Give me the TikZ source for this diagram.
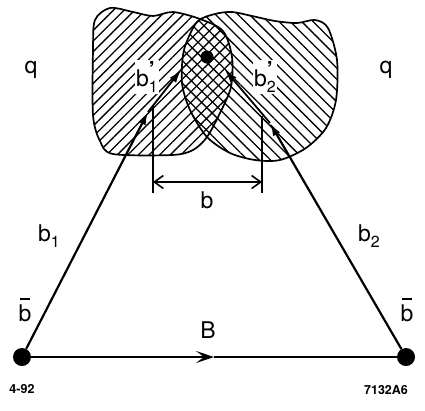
\documentclass[tikz,border=0pt]{standalone}
\usepackage{fontspec}
\setmainfont{TeX Gyre Heros}
\usetikzlibrary{arrows.meta,patterns.meta}

% subscript, primed subscript and barred b for the labels
\newcommand{\idx}[1]{\raisebox{-0.28em}{\fontsize{16}{16}\selectfont #1}}
\newcommand{\pidx}[1]{\rlap{\raisebox{0.38em}{\fontsize{22}{22}\selectfont\bfseries ’}}\idx{#1}}
\newcommand{\barb}{\rlap{\hspace{0.07em}\raisebox{0.93em}{\rule{0.42em}{1.4pt}}}b}

\begin{document}
\begin{tikzpicture}[x=1pt,y=-1pt,
  lbl/.style={font=\fontsize{23}{26}\selectfont,inner sep=0pt},
  tag/.style={font=\fontsize{12.5}{14}\selectfont\bfseries,inner sep=0pt},
  dot/.style={circle,fill,inner sep=0pt,minimum size=18pt},
  vec/.style={line width=2.2pt,-{Latex[length=13pt,width=8pt]}},
  blob/.style={line width=1.7pt,line join=round},
  bar/.style={line width=1.6pt}]
  \useasboundingbox (0,0) rectangle (425,410);

  % the two hatched regions
  \fill[pattern={Lines[angle=45,distance=7.5pt,line width=1.3pt]}] plot[smooth cycle] coordinates {(95,20) (110,8) (133,12) (153,16) (173,12) (200,19) (223,31) (232,57) (231,87) (220,113) (207,137) (193,150) (172,155) (113,154) (100,141) (93,115) (93,50)};
  \fill[pattern={Lines[angle=-45,distance=8pt,line width=1.3pt]}] plot[smooth cycle] coordinates {(197,22) (215,14) (232,12) (252,16) (275,21) (297,23) (315,20) (328,28) (337,60) (336,100) (326,128) (306,148) (280,160) (255,160) (230,153) (207,137) (190,110) (182,83) (184,50)};
  \draw[blob] plot[smooth cycle] coordinates {(95,20) (110,8) (133,12) (153,16) (173,12) (200,19) (223,31) (232,57) (231,87) (220,113) (207,137) (193,150) (172,155) (113,154) (100,141) (93,115) (93,50)};
  \draw[blob] plot[smooth cycle] coordinates {(197,22) (215,14) (232,12) (252,16) (275,21) (297,23) (315,20) (328,28) (337,60) (336,100) (326,128) (306,148) (280,160) (255,160) (230,153) (207,137) (190,110) (182,83) (184,50)};

  \node[dot] (bl) at (22,357) {};
  \node[dot] (br) at (406,357) {};
  \node[dot,minimum size=13pt] (bb) at (207,57) {};

  \coordinate (t1) at (148,112);
  \coordinate (t2) at (270,123);
  \coordinate (p1) at (181,70);
  \coordinate (p2) at (225,70);
  \coordinate (m) at (214,357);

  \draw[vec] (bl) -- (t1);
  \draw[vec] (br) -- (t2);
  \draw[vec,line width=1.8pt] (t1) -- (p1);
  \draw[vec,line width=1.8pt] (t2) -- (p2);

  \draw[line width=2.2pt,-{Stealth[length=18pt,width=12pt,inset=8pt]}] (bl) -- (m);
  \draw[line width=2.2pt] (m) -- (br);

  % width b
  \coordinate (v1t) at (153,106);
  \coordinate (v1b) at (153,193);
  \coordinate (v2t) at (262,116);
  \coordinate (v2b) at (262,193);
  \coordinate (h1) at (153,182);
  \coordinate (h2) at (262,182);
  \draw[bar] (v1t) -- (v1b);
  \draw[bar] (v2t) -- (v2b);
  \draw[bar,{Straight Barb[length=9pt,width=13pt]}-{Straight Barb[length=9pt,width=13pt]}] (h1) -- (h2);

  \node[lbl] (q1) at (31,70) {q};
  \node[lbl] (q2) at (386,70) {q};
  \node[lbl,fill=white,inner sep=1.5pt] (lb1p) at (147,77) {b\pidx{1}};
  \node[lbl,fill=white,inner sep=1.5pt] (lb2p) at (265,77) {b\pidx{2}};
  \node[lbl] (lb) at (207,200) {b};
  \node[lbl] (lb1) at (49,236) {b\idx{1}};
  \node[lbl] (lb2) at (369,236) {b\idx{2}};
  \node[lbl] (lbb1) at (25,310) {\barb};
  \node[lbl] (lbb2) at (407,310) {\barb};
  \node[lbl] (lB) at (208,330) {B};
  \node[tag] (date) at (22,389) {4-92};
  \node[tag] (code) at (386,390) {7132A6};
\end{tikzpicture}
\end{document}
